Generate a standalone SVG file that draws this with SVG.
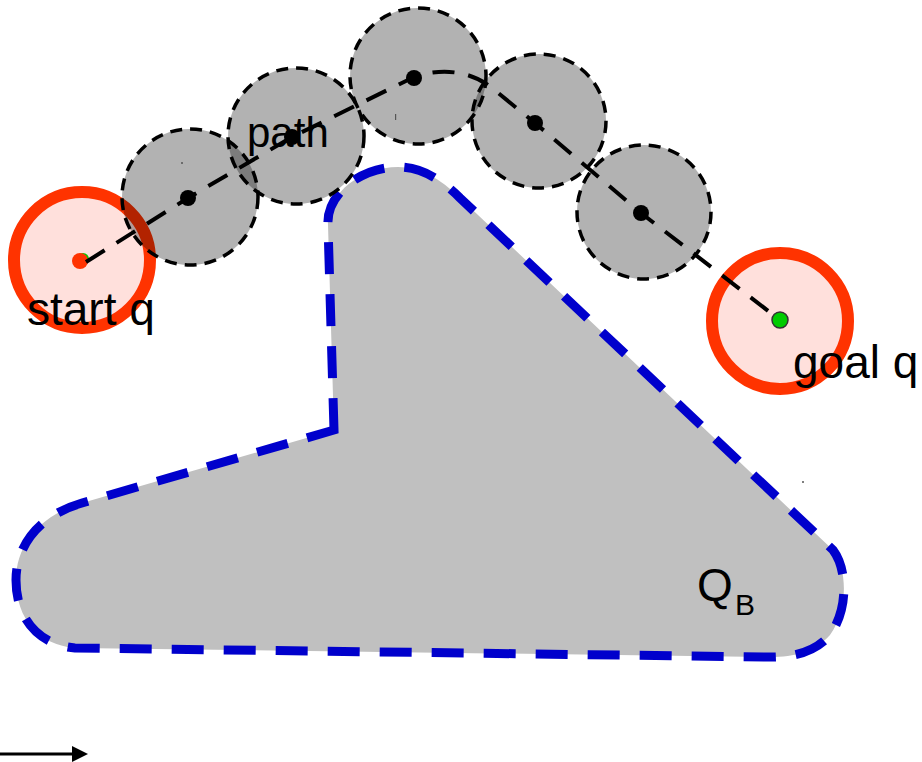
<svg xmlns="http://www.w3.org/2000/svg" width="922" height="762" viewBox="0 0 922 762">
<defs>
<style>
.lbl{font-family:"Liberation Sans",Arial,sans-serif;fill:#000}
.ring{fill:#ffe0dc;stroke:#ff3300;stroke-width:12}
.conf{fill:#000;fill-opacity:0.3;stroke:#000;stroke-width:3.5;stroke-dasharray:12 8}
.pt{fill:#000}
</style>
<marker id="ah" markerWidth="16" markerHeight="16" refX="0" refY="8" orient="auto" markerUnits="userSpaceOnUse">
<path d="M0,0 L16,8 L0,16 Z" fill="#000"/>
</marker>
</defs>
<rect width="922" height="762" fill="#fff"/>
<g id="obstacle">
<path d="M334,430 L328,225 C326,195 360,167 398,167 C420,167 440,178 460,198 L833,550 C848,570 848,610 830,635 C815,652 795,657 770,657 L75,648 C40,645 16,620 16,580 C16,545 40,515 82,503 Z" fill="#c0c0c0" stroke="#0000cc" stroke-width="9" stroke-dasharray="32 20"/>
<text class="lbl" x="697" y="601" font-size="46">Q</text>
<text class="lbl" x="735" y="615" font-size="30">B</text>
</g>
<g id="start">
<circle class="ring" cx="82" cy="260" r="68"/>
<circle cx="83" cy="259" r="6" fill="#00cc00"/>
<circle cx="80" cy="261" r="8" fill="#ff3300"/>
<text class="lbl" x="27" y="325" font-size="46">start q</text>
</g>
<g id="goal">
<circle class="ring" cx="780" cy="321" r="68"/>
<text class="lbl" x="793" y="378" font-size="46">goal q</text>
</g>
<g id="configs">
<circle class="conf" cx="190" cy="197" r="68"/>
<circle class="conf" cx="296" cy="136" r="68"/>
<circle class="conf" cx="418" cy="76" r="68"/>
<circle class="conf" cx="539" cy="121" r="67"/>
<circle class="conf" cx="644" cy="212" r="67"/>
</g>
<g id="connectors">
<path d="M86,262 L188,198 L292,137 L414,77 C440,68 470,70 492,88 L535,123 L641,213 L780,320" fill="none" stroke="#000" stroke-width="4" stroke-dasharray="22 14"/>
<line x1="0" y1="754" x2="72" y2="754" stroke="#000" stroke-width="3" marker-end="url(#ah)"/>
</g>
<g id="points">
<circle class="pt" cx="188" cy="198" r="8"/>
<circle class="pt" cx="292" cy="137" r="8"/>
<circle class="pt" cx="414" cy="78" r="8"/>
<circle class="pt" cx="535" cy="123" r="8"/>
<circle class="pt" cx="641" cy="213" r="8"/>
<circle cx="780" cy="320" r="8" fill="#00cc00" stroke="#333" stroke-width="1.5"/>
<circle cx="182" cy="163" r="1" fill="#555"/>
<rect x="395" y="114" width="1.2" height="6" fill="#555"/>
<circle cx="803" cy="482" r="1" fill="#555"/>
</g>
<g id="path-label">
<text class="lbl" x="247" y="147" font-size="42">path</text>
</g>
</svg>
